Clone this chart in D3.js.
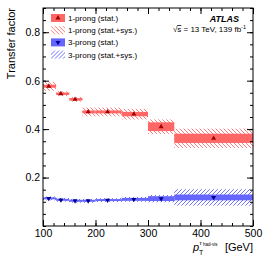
<!DOCTYPE html>
<html lang="en">
<head>
  <meta charset="UTF-8">
  <title>Transfer factor</title>
  <script src="https://d3js.org/d3.v7.min.js"></script>
  <style>
    body { margin: 0; background: #fff; }
    svg { display: block; font-family: "Liberation Sans", Arial, sans-serif; }
  </style>
</head>
<body>
  <svg id="chart" width="266" height="257"></svg>
  <script>
    // bins in pT [GeV]
    const binLo = [100, 125, 150, 175, 200, 250, 300, 350];
    const binHi = [125, 150, 175, 200, 250, 300, 350, 500];
    const binMean = [111, 134, 161, 186, 223, 273, 325, 425];

    // 1-prong transfer factor
    const tf1 = [0.577, 0.546, 0.523, 0.471, 0.471, 0.462, 0.410, 0.362];
    const stat1 = [0.006, 0.005, 0.005, 0.006, 0.006, 0.009, 0.018, 0.019];
    const tot1 = [0.019, 0.010, 0.010, 0.018, 0.018, 0.022, 0.030, 0.040];

    // 3-prong transfer factor
    const tf3 = [0.114, 0.108, 0.104, 0.104, 0.107, 0.110, 0.113, 0.118];
    const stat3 = [0.004, 0.004, 0.004, 0.004, 0.004, 0.006, 0.010, 0.012];
    const tot3 = [0.008, 0.008, 0.008, 0.008, 0.008, 0.010, 0.015, 0.034];

    const xTicks = [100, 200, 300, 400, 500];
    const yTicks = [0.2, 0.4, 0.6, 0.8];

    const legendLabels = ["1-prong (stat.)", "1-prong (stat.+sys.)", "3-prong (stat.)", "3-prong (stat.+sys.)"];

    const margin = { top: 8, right: 13, bottom: 31, left: 43 };
    const width = 266 - margin.left - margin.right;
    const height = 257 - margin.top - margin.bottom;

    const red = "#ff6666", redLine = "#ff7070", redMark = "#a00000";
    const blue = "#6666ff", blueLine = "#6060ff", blueMark = "#000090";

    const svg = d3.select("#chart");
    const defs = svg.append("defs");

    function hatch(id, color, d) {
      defs.append("pattern")
        .attr("id", id)
        .attr("patternUnits", "userSpaceOnUse")
        .attr("width", 4).attr("height", 4)
        .append("path")
        .attr("d", d)
        .attr("stroke", color)
        .attr("stroke-width", 0.9)
        .attr("fill", "none");
    }
    hatch("hatchRed", redLine, "M-1,-1L5,5M3,-1L5,1M-1,3L1,5");
    hatch("hatchBlue", blueLine, "M-1,5L5,-1M-1,1L1,-1M3,5L5,3");

    const g = svg.append("g")
      .attr("transform", `translate(${margin.left},${margin.top})`);

    const x = d3.scaleLinear().domain([100, 500]).range([0, width]);
    const y = d3.scaleLinear().domain([0, 0.9]).range([height, 0]);

    const bins = binLo.map((lo, i) => ({
      lo, hi: binHi[i], mean: binMean[i],
      v1: tf1[i], s1: stat1[i], t1: tot1[i],
      v3: tf3[i], s3: stat3[i], t3: tot3[i]
    }));

    function band(cls, val, err, fill) {
      g.selectAll("." + cls)
        .data(bins)
        .enter().append("rect")
        .attr("class", cls)
        .attr("x", d => x(d.lo))
        .attr("width", d => x(d.hi) - x(d.lo))
        .attr("y", d => y(d[val] + d[err]))
        .attr("height", d => y(d[val] - d[err]) - y(d[val] + d[err]))
        .attr("fill", fill);
    }

    band("tot1", "v1", "t1", "url(#hatchRed)");
    band("stat1", "v1", "s1", red);
    band("tot3", "v3", "t3", "url(#hatchBlue)");
    band("stat3", "v3", "s3", blue);

    const tri = d3.symbol().type(d3.symbolTriangle).size(11);

    g.selectAll(".m1")
      .data(bins)
      .enter().append("path")
      .attr("class", "m1")
      .attr("d", tri)
      .attr("transform", d => `translate(${x(d.mean)},${y(d.v1)})`)
      .attr("fill", redMark);

    g.selectAll(".m3")
      .data(bins)
      .enter().append("path")
      .attr("class", "m3")
      .attr("d", tri)
      .attr("transform", d => `translate(${x(d.mean)},${y(d.v3)}) rotate(180)`)
      .attr("fill", blueMark);

    // axes, ticks pointing inward on all four sides
    function styleAxis(sel) {
      sel.select(".domain").remove();
      sel.selectAll("line").attr("stroke", "#000");
      sel.selectAll("text").attr("font-size", 10.5).attr("fill", "#000")
        .attr("font-family", "'Liberation Sans', Arial, sans-serif");
    }

    const minorX = d3.range(100, 501, 20);
    const minorY = d3.range(0, 0.91, 0.05);

    g.append("g").attr("transform", `translate(0,${height})`)
      .call(d3.axisBottom(x).tickValues(minorX).tickSize(-3).tickFormat(""))
      .call(styleAxis);
    g.append("g").attr("transform", `translate(0,${height})`)
      .call(d3.axisBottom(x).tickValues(xTicks).tickSize(-6).tickPadding(3.5).tickFormat(d3.format("d")))
      .call(styleAxis);
    g.append("g")
      .call(d3.axisTop(x).tickValues(minorX).tickSize(-3).tickFormat(""))
      .call(styleAxis);
    g.append("g")
      .call(d3.axisTop(x).tickValues(xTicks).tickSize(-6).tickFormat(""))
      .call(styleAxis);

    g.append("g")
      .call(d3.axisLeft(y).tickValues(minorY).tickSize(-3).tickFormat(""))
      .call(styleAxis);
    g.append("g")
      .call(d3.axisLeft(y).tickValues(yTicks).tickSize(-6).tickPadding(3).tickFormat(d3.format(".1f")))
      .call(styleAxis);
    g.append("g").attr("transform", `translate(${width},0)`)
      .call(d3.axisRight(y).tickValues(minorY).tickSize(-3).tickFormat(""))
      .call(styleAxis);
    g.append("g").attr("transform", `translate(${width},0)`)
      .call(d3.axisRight(y).tickValues(yTicks).tickSize(-6).tickFormat(""))
      .call(styleAxis);

    g.append("rect")
      .attr("width", width).attr("height", height)
      .attr("fill", "none").attr("stroke", "#000").attr("stroke-width", 1);

    // axis titles
    svg.append("text")
      .attr("transform", "translate(15,8) rotate(-90)")
      .attr("text-anchor", "end")
      .attr("font-size", 11)
      .text("Transfer factor");

    const xt = svg.append("g").attr("font-size", 11);
    xt.append("text").attr("x", 193).attr("y", 251).attr("font-style", "italic").text("p");
    xt.append("text").attr("x", 199).attr("y", 254.5).attr("font-size", 7).text("T");
    xt.append("text").attr("x", 199.5).attr("y", 245).attr("font-size", 6).attr("font-style", "italic").text("τ");
    xt.append("text").attr("x", 203).attr("y", 246).attr("font-size", 4.5).text("had-vis");
    xt.append("text").attr("x", 253).attr("y", 251).attr("text-anchor", "end").text("[GeV]");

    // ATLAS label
    svg.append("text")
      .attr("x", 239).attr("y", 22)
      .attr("text-anchor", "end")
      .attr("font-size", 9).attr("font-weight", "bold").attr("font-style", "italic")
      .text("ATLAS");

    const lumi = svg.append("text")
      .attr("x", 246).attr("y", 32)
      .attr("text-anchor", "end")
      .attr("font-size", 8);
    lumi.append("tspan").text("√");
    lumi.append("tspan").attr("text-decoration", "overline").text("s");
    lumi.append("tspan").text(" = 13 TeV, 139 fb");
    lumi.append("tspan").attr("font-size", 5.5).attr("dy", -3.5).text("-1");

    // legend
    const legendFill = [red, "url(#hatchRed)", blue, "url(#hatchBlue)"];
    const legendMark = [redMark, null, blueMark, null];
    const legend = svg.append("g").attr("transform", "translate(51,14)");
    legendLabels.forEach((label, i) => {
      const row = legend.append("g").attr("transform", `translate(0,${i * 12.2})`);
      row.append("rect")
        .attr("width", 14).attr("height", 8)
        .attr("fill", legendFill[i]);
      if (legendMark[i]) {
        row.append("path")
          .attr("d", tri)
          .attr("transform", `translate(7,4)${i === 2 ? " rotate(180)" : ""}`)
          .attr("fill", legendMark[i]);
      }
      row.append("text")
        .attr("x", 17).attr("y", 7)
        .attr("font-size", 8)
        .text(label);
    });
  </script>
</body>
</html>
